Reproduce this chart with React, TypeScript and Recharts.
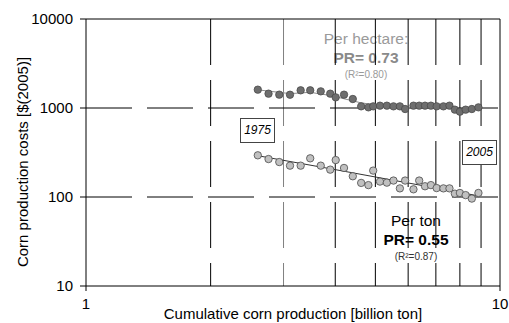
import React from "react";
import {
  ScatterChart,
  Scatter,
  XAxis,
  YAxis,
  ReferenceLine,
  Label,
} from "recharts";

// cumulative production, billion ton (1975 .. 2005)
const cumulative = [
  2.6, 2.76, 2.93, 3.11, 3.3, 3.48, 3.69, 3.89, 4.01, 4.2, 4.41, 4.62, 4.81,
  4.94, 5.13, 5.33, 5.53, 5.73, 5.9, 6.18, 6.38, 6.59, 6.81, 7.03, 7.3, 7.55,
  7.78, 8.0, 8.26, 8.55, 8.87,
];
const costPerHectare = [
  1607, 1449, 1412, 1410, 1580, 1580, 1539, 1449, 1318, 1412, 1262, 1044, 1017,
  1044, 1062, 1062, 1044, 1044, 974, 1062, 1062, 1062, 1062, 1044, 1044, 1062,
  958, 910, 958, 974, 1017,
];
const costPerTon = [
  294, 267, 247, 225, 225, 272, 225, 203, 260, 212, 171, 144, 136, 198, 149,
  145, 153, 125, 153, 122, 153, 132, 136, 126, 125, 125, 109, 111, 105, 96, 111,
];

// fitted curves
const hectareFitX = [2.6, 3.11, 3.48, 3.9, 4.59, 5.13, 5.9, 7.3, 8.0, 8.87];
const hectareFitY = [1600, 1450, 1500, 1380, 1150, 1060, 1000, 1050, 920, 1010];
const tonFitX = [2.6, 4.0, 8.87];
const tonFitY = [291, 203, 103];

const xTicks = [1, 10];
const yTicks = [10, 100, 1000, 10000];
const xGrid = [2, 3, 4, 5, 6, 7, 8, 9];
const yGrid = [100, 1000];

const zip = (xs: number[], ys: number[]) => xs.map((x, i) => ({ x, y: ys[i] }));

const hectareData = zip(cumulative, costPerHectare);
const tonData = zip(cumulative, costPerTon);
const hectareFit = zip(hectareFitX, hectareFitY);
const tonFit = zip(tonFitX, tonFitY);

const FONT = "Arial, 'Liberation Sans', sans-serif";

const dot = (fill: string) => (props: any) => (
  <circle cx={props.cx} cy={props.cy} r={3.7} fill={fill} stroke="#4a4a4a" strokeWidth={0.8} />
);
const noDot = () => <g />;

const note = (
  left: number,
  top: number,
  text: React.ReactNode,
  size: number,
  color: string,
  bold = false
) => (
  <div
    style={{
      position: "absolute",
      left,
      top,
      transform: "translate(-50%, -50%)",
      fontSize: size,
      lineHeight: `${size}px`,
      fontWeight: bold ? 700 : 400,
      color,
      whiteSpace: "nowrap",
    }}
  >
    {text}
  </div>
);

const yearBox = (left: number, top: number, label: string) => (
  <div
    style={{
      position: "absolute",
      left,
      top,
      width: 33,
      height: 23,
      border: "1px solid #444",
      background: "#fff",
      fontStyle: "italic",
      fontSize: 12,
      lineHeight: "23px",
      textAlign: "center",
    }}
  >
    {label}
  </div>
);

export default function App() {
  return (
    <div
      style={{
        position: "absolute",
        left: 0,
        top: 0,
        width: 509,
        height: 323,
        background: "#fff",
        fontFamily: FONT,
        overflow: "hidden",
      }}
    >
      {note(366, 39, "Per hectare:", 15.5, "#9a9a9a")}
      {note(366, 58, "PR= 0.73", 15.5, "#8a8a8a", true)}
      {note(366, 75, <>(R²=0.80)</>, 10, "#9a9a9a")}
      {note(416, 221, "Per ton", 15.5, "#000")}
      {note(416, 240, "PR= 0.55", 15.5, "#000", true)}
      {note(416, 257, <>(R²=0.87)</>, 10, "#333")}

      <div
        style={{
          position: "absolute",
          left: 22,
          top: 162,
          transform: "translate(-50%, -50%) rotate(-90deg)",
          transformOrigin: "center",
          fontSize: 15,
          whiteSpace: "nowrap",
          color: "#000",
        }}
      >
        Corn production costs [$(2005)]
      </div>

      <div style={{ position: "absolute", left: 0, top: 0 }}>
        <ScatterChart
          width={509}
          height={323}
          margin={{ top: 19, right: 9, bottom: 7, left: 26 }}
          style={{ fontFamily: FONT }}
        >
          <XAxis
            dataKey="x"
            type="number"
            scale="log"
            domain={[1, 10]}
            ticks={xTicks}
            allowDataOverflow
            height={30}
            tickSize={5}
            tickMargin={7}
            stroke="#000"
            tick={{ fill: "#000", fontSize: 15 }}
          >
            <Label
              value="Cumulative corn production [billion ton]"
              position="insideBottom"
              offset={-3}
              style={{ fontSize: 15, fill: "#000" }}
            />
          </XAxis>
          <YAxis
            dataKey="y"
            type="number"
            scale="log"
            domain={[10, 10000]}
            ticks={yTicks}
            allowDataOverflow
            width={60}
            tickSize={6}
            tickMargin={7}
            stroke="#000"
            tick={{ fill: "#000", fontSize: 15 }}
          />

          {xGrid.map((v) => (
            <ReferenceLine
              key={`vx${v}`}
              x={v}
              stroke={v === 3 ? "#808080" : "#000"}
              strokeWidth={1}
              strokeDasharray="46 15"
              strokeDashoffset={23}
            />
          ))}
          {yGrid.map((v) => (
            <ReferenceLine key={`hy${v}`} y={v} stroke="#000" strokeDasharray="46 15" />
          ))}
          <ReferenceLine x={10} stroke="#000" />
          <ReferenceLine y={10000} stroke="#000" />

          <Scatter
            data={hectareFit}
            line={{ stroke: "#8c8c8c", strokeWidth: 1 }}
            shape={noDot}
            isAnimationActive={false}
          />
          <Scatter
            data={tonFit}
            line={{ stroke: "#333", strokeWidth: 1 }}
            shape={noDot}
            isAnimationActive={false}
          />
          <Scatter data={hectareData} shape={dot("#6e6e6e")} isAnimationActive={false} />
          <Scatter data={tonData} shape={dot("#c0c0c0")} isAnimationActive={false} />
        </ScatterChart>
      </div>

      {yearBox(240, 118, "1975")}
      {yearBox(462, 140, "2005")}
    </div>
  );
}
